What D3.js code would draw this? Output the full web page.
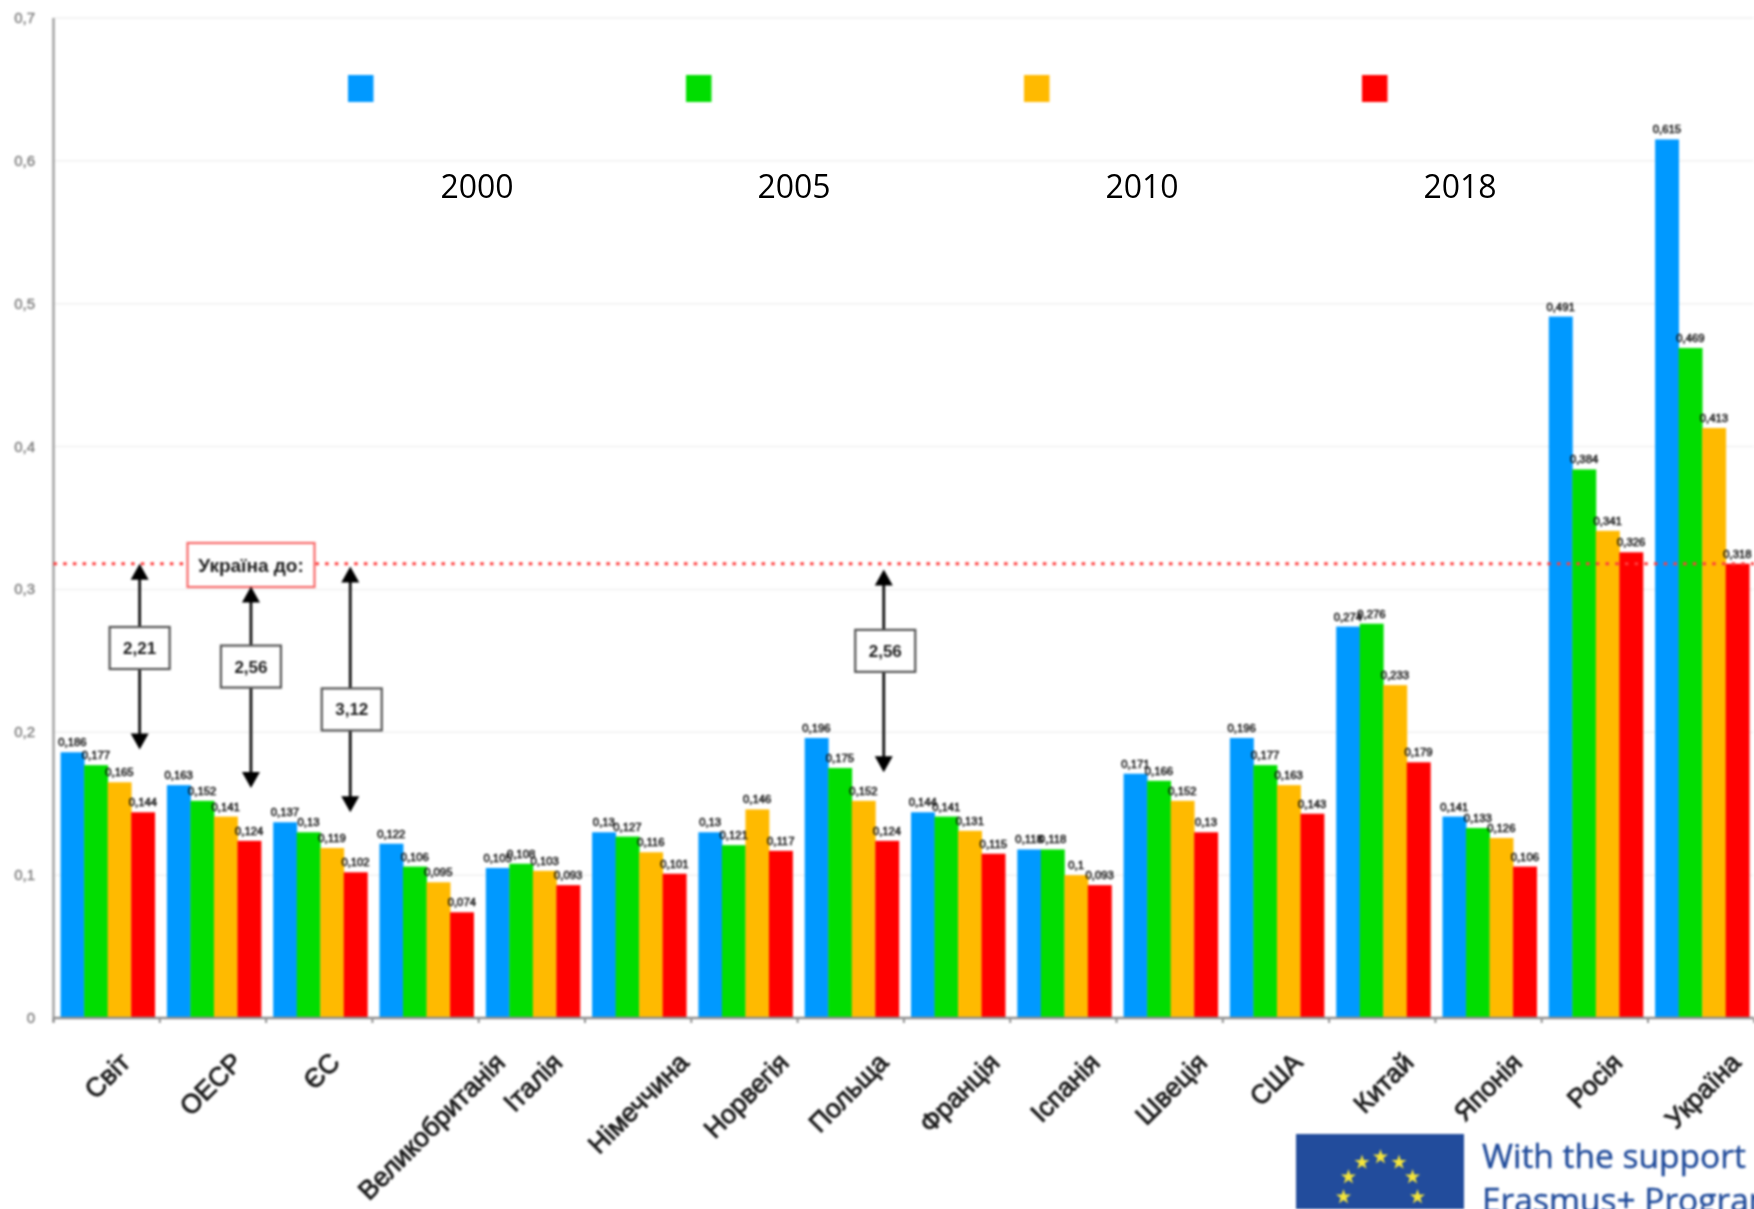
<!DOCTYPE html>
<html><head><meta charset="utf-8">
<script src="https://cdn.jsdelivr.net/npm/d3@7"></script>
<style>
html,body{margin:0;padding:0;background:#fff;overflow:hidden}
svg{display:block}
.soft{filter:blur(.9px)}
</style></head><body>
<svg id="c" width="1754" height="1209"></svg>
<script>
const categories=["Світ","ОЕСР","ЄС","Великобританія","Італія","Німеччина","Норвегія","Польща","Франція","Іспанія","Швеція","США","Китай","Японія","Росія","Україна"];
const years=["2000","2005","2010","2018"];
const v2000=[0.186,0.163,0.137,0.122,0.105,0.13,0.13,0.196,0.144,0.118,0.171,0.196,0.274,0.141,0.491,0.615];
const v2005=[0.177,0.152,0.13,0.106,0.108,0.127,0.121,0.175,0.141,0.118,0.166,0.177,0.276,0.133,0.384,0.469];
const v2010=[0.165,0.141,0.119,0.095,0.103,0.116,0.146,0.152,0.131,0.1,0.152,0.163,0.233,0.126,0.341,0.413];
const v2018=[0.144,0.124,0.102,0.074,0.093,0.101,0.117,0.124,0.115,0.093,0.13,0.143,0.179,0.106,0.326,0.318];
const seriesValues=[v2000,v2005,v2010,v2018];
const colors=["#0099ff","#00dd00","#ffba00","#ff0000"];
const yTicks=[0,0.1,0.2,0.3,0.4,0.5,0.6,0.7];
const refValue=0.318;
const refLabel="Україна до:";
const arrowCats=["Світ","ОЕСР","ЄС","Польща"];
const arrowLabels=["2,21","2,56","3,12","2,56"];
const arrowTops=[0.318,0.302,0.316,0.314];
const arrowBottoms=[0.188,0.161,0.144,0.172];
const arrowBoxes=[0.259,0.246,0.216,0.257];
const footer=["With the support","Erasmus+ Program"];

const comma=s=>String(s).replace(".",",");
const svg=d3.select("#c");
const x=d3.scaleBand().domain(categories).range([54.5,1755.3]).paddingInner(.115).paddingOuter(.0575);
const xs=d3.scaleBand().domain(years).range([0,x.bandwidth()]);
const y=d3.scaleLinear().domain([0,0.7]).range([1018,18]);
const step=x.step(), axisX=53.5;

const g=svg.append("g").attr("class","soft");
// grid
g.append("g").selectAll("line").data(yTicks.slice(1)).join("line")
 .attr("x1",axisX).attr("x2",1754).attr("y1",d=>y(d)).attr("y2",d=>y(d))
 .attr("stroke","#f4f4f4").attr("stroke-width",2);
// y axis labels
g.append("g").selectAll("text").data(yTicks).join("text")
 .attr("x",35).attr("y",d=>y(d)+5).attr("text-anchor","end")
 .attr("font-family","Liberation Sans").attr("font-size",15).attr("fill","#808080")
 .attr("stroke","#808080").attr("stroke-width",.4)
 .text(d=>comma(d));
// bars
const groups=g.append("g").selectAll("g").data(categories).join("g")
 .attr("transform",d=>`translate(${x(d)},0)`);
groups.each(function(c,i){
  const sel=d3.select(this);
  years.forEach((yr,k)=>{
    sel.append("rect").attr("x",xs(yr)).attr("width",xs.bandwidth()+.4)
      .attr("y",y(seriesValues[k][i])).attr("height",y(0)-y(seriesValues[k][i]))
      .attr("fill",colors[k]);
  });
});
groups.each(function(c,i){
  const sel=d3.select(this);
  years.forEach((yr,k)=>{
    sel.append("text").attr("x",xs(yr)+xs.bandwidth()/2).attr("y",y(seriesValues[k][i])-6)
      .attr("text-anchor","middle").attr("font-family","Liberation Sans").attr("font-size",11.3)
      .attr("fill","#111").attr("stroke","#111").attr("stroke-width",.5).text(comma(seriesValues[k][i]));
  });
});
// axes lines
g.append("line").attr("x1",axisX).attr("x2",axisX).attr("y1",y(0.7)).attr("y2",y(0)+4).attr("stroke","#a0a0a0").attr("stroke-width",2.4);
g.append("line").attr("x1",axisX).attr("x2",1754).attr("y1",y(0)).attr("y2",y(0)).attr("stroke","#8f8f8f").attr("stroke-width",2.4);
g.append("g").selectAll("line").data(d3.range(0,17)).join("line")
 .attr("x1",d=>axisX+d*step).attr("x2",d=>axisX+d*step).attr("y1",y(0)).attr("y2",y(0)+5)
 .attr("stroke","#8f8f8f").attr("stroke-width",2);
// category labels
const nudge={"Світ":-2,"ОЕСР":4,"ЄС":-5,"Великобританія":54,"Італія":5,"Німеччина":25,"Норвегія":19,"Польща":12,"Франція":17,"Іспанія":11,"Швеція":12,"США":1,"Китай":6,"Японія":8,"Росія":2,"Україна":14};
g.append("g").selectAll("text").data(categories).join("text")
 .attr("transform",d=>`translate(${x(d)+x.bandwidth()/2+26+(nudge[d]||0)},${y(0)+46}) rotate(-45)`)
 .attr("text-anchor","end").attr("font-family","Liberation Sans").attr("font-size",26.5)
 .attr("fill","#1c1c1c").attr("stroke","#1c1c1c").attr("stroke-width",.9).text(d=>d);
// reference line
g.append("line").attr("x1",axisX).attr("x2",1754).attr("y1",y(refValue)).attr("y2",y(refValue))
 .attr("stroke","#ff3d3d").attr("stroke-width",3).attr("stroke-dasharray","3.5 6.2");
// reference box
g.append("rect").attr("x",187.5).attr("y",543).attr("width",127).attr("height",44).attr("fill","#fff").attr("stroke","#f76a6a").attr("stroke-width",2.2);
g.append("text").attr("x",251).attr("y",572).attr("text-anchor","middle").attr("font-family","Liberation Sans").attr("font-weight","bold")
 .attr("font-size",19).attr("fill","#1c1c1c").text(refLabel);
// arrows
const arrowDx={"Світ":32,"ОЕСР":37,"ЄС":30,"Польща":32};
const boxDx={"Світ":0,"ОЕСР":0,"ЄС":1.5,"Польща":1.5};
const head=(px,py,dir)=>`M${px-9},${py-dir*16}L${px+9},${py-dir*16}L${px},${py}Z`;
arrowCats.forEach((c,i)=>{
  const px=x(c)+x.bandwidth()/2+arrowDx[c];
  const a=g.append("g");
  a.append("line").attr("x1",px).attr("x2",px).attr("y1",y(arrowTops[i])+8).attr("y2",y(arrowBottoms[i])-8).attr("stroke","#111").attr("stroke-width",2.8);
  a.append("path").attr("d",head(px,y(arrowTops[i]),-1)).attr("fill","#000");
  a.append("path").attr("d",head(px,y(arrowBottoms[i]),1)).attr("fill","#000");
  a.append("rect").attr("x",px-30+boxDx[c]).attr("y",y(arrowBoxes[i])-21).attr("width",60).attr("height",42).attr("fill","#fff").attr("stroke","#555").attr("stroke-width",2.2);
  a.append("text").attr("x",px+boxDx[c]).attr("y",y(arrowBoxes[i])+6).attr("text-anchor","middle").attr("font-family","Liberation Sans").attr("font-weight","bold").attr("font-size",17).attr("fill","#1c1c1c").text(arrowLabels[i]);
});
// legend
const legendX=d3.scalePoint().domain(years).range([348,1362]);
g.append("g").selectAll("rect").data(years).join("rect")
 .attr("x",d=>legendX(d)).attr("y",75).attr("width",25.5).attr("height",27).attr("fill",(d,i)=>colors[i]);
const labelX=d3.scaleOrdinal().domain(years).range([477,794,1142,1460]);
svg.append("g").selectAll("text").data(years).join("text")
 .attr("x",d=>labelX(d)).attr("y",198).attr("text-anchor","middle").attr("font-family","Open Sans").attr("font-size",32).attr("fill","#000").text(d=>d);
// footer
const f=svg.append("g").attr("class","soft");
f.append("rect").attr("x",1296).attr("y",1134).attr("width",168).attr("height",75).attr("fill","#224c9c");
f.append("g").selectAll("path").data(d3.range(12)).join("path")
 .attr("d",d3.symbol(d3.symbolStar,70))
 .attr("transform",d=>`translate(${1380.5+37*Math.sin(d*Math.PI/6)},${1197-40*Math.cos(d*Math.PI/6)})`)
 .attr("fill","#f4e53a");
f.append("g").selectAll("text").data(footer).join("text")
 .attr("x",1482).attr("y",(d,i)=>1168+i*44).attr("font-family","Open Sans").attr("font-size",33.5)
 .attr("fill","#1f4a9a").attr("stroke","#1f4a9a").attr("stroke-width",.4).text(d=>d);
</script></body></html>
